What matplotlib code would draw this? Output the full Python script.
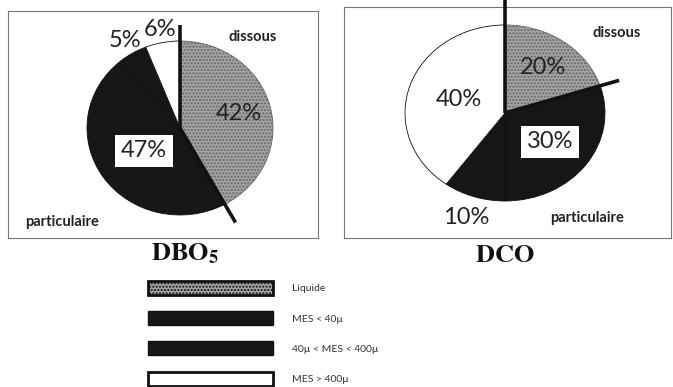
import numpy as np
import matplotlib.pyplot as plt
from matplotlib.patches import Patch

plt.rcParams['font.family'] = ['Lato', 'DejaVu Sans']
plt.rcParams['mathtext.fontset'] = 'stix'

categories = ['Liquide', 'MES < 40µ', '40µ < MES < 400µ', 'MES > 400µ']
dbo5 = [42, 47, 5, 6]
dco = [20, 30, 10, 40]

colors = ['#a3a3a3', '#161616', '#161616', 'white']
W, H = 673, 387

fig = plt.figure(figsize=(W / 100, H / 100), dpi=100)


def px_axes(x0, y0, w, h):
    return fig.add_axes([x0 / W, 1 - (y0 + h) / H, w / W, h / H])


def frame(x0, y0, x1, y1):
    ax = px_axes(x0, y0, x1 - x0, y1 - y0)
    ax.set_xticks([])
    ax.set_yticks([])
    for s in ax.spines.values():
        s.set_color('#777777')
        s.set_linewidth(0.8)
    ax.patch.set_alpha(0)
    return ax


def draw_pie(values, cx, cy, rx, ry, radii, boxed, line_len):
    k = 1.4
    ax = px_axes(cx - k * rx, cy - k * ry, 2 * k * rx, 2 * k * ry)
    wedges, _ = ax.pie(values, colors=colors, startangle=90, counterclock=False,
                       wedgeprops=dict(edgecolor='#111111', linewidth=0.6))
    ax.set_aspect('auto')
    ax.set_xlim(-k, k)
    ax.set_ylim(-k, k)
    wedges[0].set_hatch('.....')
    wedges[0].set_edgecolor('#666666')

    # percentage labels at the middle of each wedge
    start = 90.0
    total = float(sum(values))
    for i, v in enumerate(values):
        mid = np.deg2rad(start - 360 * v / total / 2)
        start -= 360 * v / total
        r = radii[i]
        kw = {}
        if i == boxed:
            kw['bbox'] = dict(boxstyle='square,pad=0.25', fc='white', ec='none')
        ax.text(r * np.cos(mid), r * np.sin(mid), f'{v}%', ha='center', va='center',
                fontsize=17, color='#222222', **kw)

    # dissous / particulaire separators
    a0 = np.deg2rad(90)
    a1 = np.deg2rad(90 - 360 * values[0] / total)
    for a, L in zip([a0, a1], line_len):
        ax.plot([0, L * np.cos(a)], [0, L * np.sin(a)], color='#111111', lw=2.6,
                solid_capstyle='butt', clip_on=False)
    return ax


frame(8, 11, 318, 238)
frame(344, 7, 671, 238)

draw_pie(dbo5, 180, 128, 93, 87, [0.65, 0.47, 1.17, 1.15], 1, [1.18, 1.24])
draw_pie(dco, 505, 113, 100, 88, [0.64, 0.56, 1.25, 0.48], 1, [1.4, 1.2])

for x, y, s in [(253, 37, 'dissous'), (62, 222, 'particulaire'),
                (617, 33, 'dissous'), (587, 218, 'particulaire')]:
    fig.text(x / W, 1 - y / H, s, ha='center', va='center',
             fontsize=10.5, fontweight='bold', color='#222222')

fig.text(185 / W, 1 - 254 / H, r'$\mathbf{DBO_5}$', ha='center', va='center',
         fontsize=19, color='#111111')
fig.text(505 / W, 1 - 254 / H, r'$\mathbf{DCO}$', ha='center', va='center',
         fontsize=19, color='#111111')

handles = [
    Patch(facecolor=colors[0], edgecolor='#111111', linewidth=2, hatch='.....'),
    Patch(facecolor=colors[1], edgecolor='#111111'),
    Patch(facecolor=colors[2], edgecolor='#111111'),
    Patch(facecolor=colors[3], edgecolor='#111111', linewidth=2),
]
fs = 7.5
fpx = fs * 100 / 72
fig.legend(handles, categories, loc='upper left', bbox_to_anchor=(148 / W, 1 - 281 / H),
           frameon=False, fontsize=fs, borderpad=0, borderaxespad=0,
           handlelength=125 / fpx, handleheight=1.7,
           handletextpad=1.8, labelspacing=1.55, labelcolor='#333333')

fig.savefig('out.png', dpi=100)
